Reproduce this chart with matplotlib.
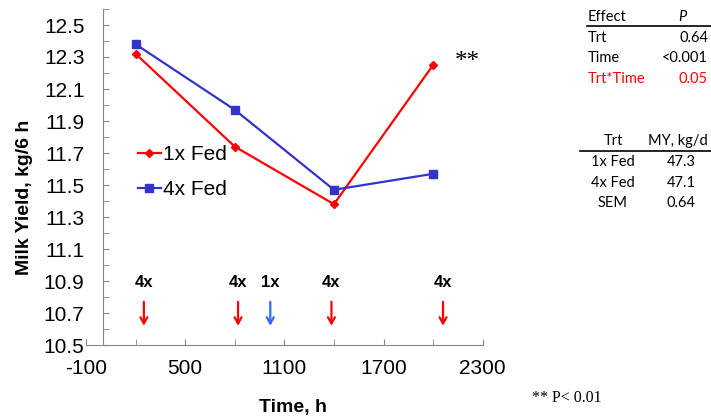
import numpy as np
import matplotlib.pyplot as plt
from matplotlib.lines import Line2D

plt.rcParams['font.family'] = ['Liberation Sans', 'DejaVu Sans']
plt.rcParams['axes.unicode_minus'] = False

# milk yield per 6 h block
time_h = [200, 800, 1400, 2000]
fed_1x = [12.32, 11.74, 11.38, 12.25]
fed_4x = [12.38, 11.97, 11.47, 11.57]

# feeding events
feed_time  = [250, 820, 1015, 1385, 2060]
feed_label = ['4x', '4x', '1x', '4x', '4x']
feed_color = ['#ff0000', '#ff0000', '#3366ff', '#ff0000', '#ff0000']

x_ticks = [-100, 500, 1100, 1700, 2300]
x_minor = [200, 800, 1400, 2000]
y_ticks = [10.5, 10.7, 10.9, 11.1, 11.3, 11.5, 11.7, 11.9, 12.1, 12.3, 12.5]
y_minor = [10.6, 10.8, 11.0, 11.2, 11.4, 11.6, 11.8, 12.0, 12.2, 12.4, 12.6]

effects   = ['Trt', 'Time', 'Trt*Time']
p_values  = ['0.64', '<0.001', '0.05']
trt_names = ['1x Fed', '4x Fed', 'SEM']
my_values = ['47.3', '47.1', '0.64']

W, H = 711, 419
fig = plt.figure(figsize=(W / 100, H / 100), dpi=100)
ax = fig.add_axes([86 / W, 1 - 345 / H, (482.7 - 86) / W, (345 - 9) / H])


def px(x, y):
    # pixel position -> figure fraction
    return x / W, 1 - y / H


ax.plot(time_h, fed_1x, color='#ff0000', lw=1.6, marker='D', ms=4.5, label='1x Fed')
ax.plot(time_h, fed_4x, color='#3333cc', lw=1.6, marker='s', ms=6, label='4x Fed')

for t, lab, c in zip(feed_time, feed_label, feed_color):
    ax.text(t, 10.89, lab, ha='center', va='center', fontsize=12, fontweight='bold')
    ax.annotate('', xy=(t, 10.62), xytext=(t, 10.77),
                arrowprops=dict(arrowstyle='->,head_length=0.45,head_width=0.25',
                                color=c, lw=1.6, shrinkA=0, shrinkB=0))

ax.text(2205, 12.27, '**', ha='center', va='center', fontsize=18,
        family='Liberation Serif')

ax.set_xlim(-100, 2300)
ax.set_ylim(10.5, 12.6)
ax.set_xticks(x_ticks)
ax.set_xticks(x_minor, minor=True)
ax.set_yticks(y_ticks)
ax.set_yticks(y_minor, minor=True)
ax.set_yticklabels([f'{v:.1f}' for v in y_ticks])

ax.spines['top'].set_visible(False)
ax.spines['right'].set_visible(False)
ax.spines['left'].set_position(('data', 0))
for s in ['left', 'bottom']:
    ax.spines[s].set_color('#868686')
ax.tick_params(which='both', direction='in', length=4, color='#868686', labelsize=15)
ax.tick_params(axis='y', pad=13)
ax.tick_params(axis='x', pad=10)

ax.legend(loc='center left', bbox_to_anchor=px(138, 172), bbox_transform=fig.transFigure,
          frameon=False, fontsize=15, handlelength=1.1, handletextpad=0.1,
          borderpad=0, borderaxespad=0, labelspacing=0.75)

fig.text(*px(293, 407), 'Time, h', ha='center', va='center', fontsize=14, fontweight='bold')
fig.text(*px(25, 197), 'Milk Yield, kg/6 h', ha='center', va='center', rotation=90,
         fontsize=14, fontweight='bold')

fig.text(*px(532, 398), '** P< 0.01', ha='left', va='center', fontsize=11.5,
         family='Liberation Serif')

# statistics tables
tf = dict(fontsize=10.5, family='Lato', va='center')
fig.text(*px(588, 17), 'Effect', ha='left', **tf)
fig.text(*px(682, 17), 'P', ha='center', style='italic', **tf)
fig.add_artist(Line2D([587 / W, 711 / W], [1 - 26 / H] * 2, color='black', lw=1.2,
                      transform=fig.transFigure))
for i, (e, p) in enumerate(zip(effects, p_values)):
    y = 38 + i * 20.5
    c = '#ff0000' if e == 'Trt*Time' else 'black'
    fig.text(*px(588, y), e, ha='left', color=c, **tf)
    fig.text(*px(708, y), p, ha='right', color=c, **tf)

fig.text(*px(613, 141), 'Trt', ha='center', **tf)
fig.text(*px(678, 141), 'MY, kg/d', ha='center', **tf)
fig.add_artist(Line2D([580 / W, 711 / W], [1 - 151 / H] * 2, color='black', lw=1.2,
                      transform=fig.transFigure))
for i, (n, v) in enumerate(zip(trt_names, my_values)):
    y = 162 + i * 20.5
    fig.text(*px(613, y), n, ha='center', **tf)
    fig.text(*px(681, y), v, ha='center', **tf)

fig.savefig('out.png', dpi=100)
